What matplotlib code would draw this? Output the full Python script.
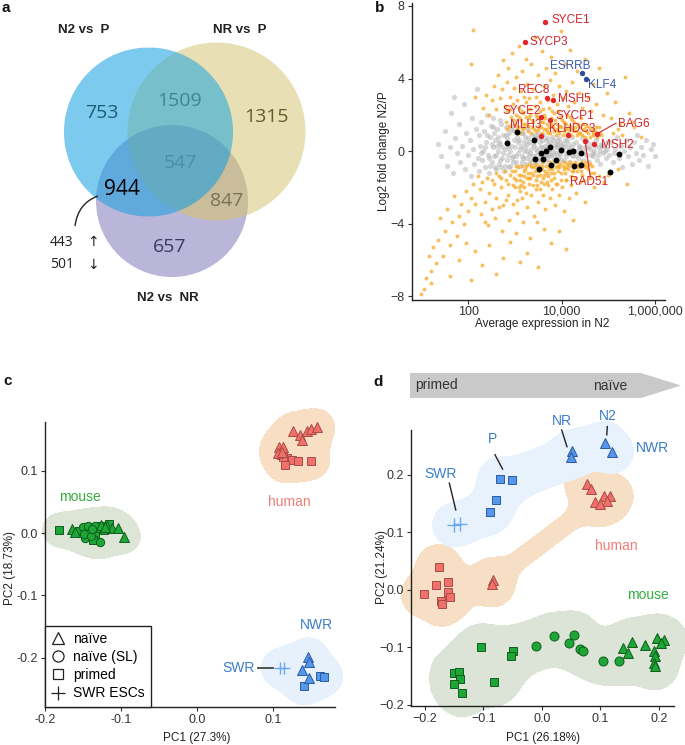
import numpy as np
import matplotlib
matplotlib.use('Agg')
import matplotlib.pyplot as plt
from matplotlib.path import Path
from matplotlib.patches import PathPatch, Polygon
from matplotlib.lines import Line2D

plt.rcParams['font.family'] = ['Liberation Sans', 'DejaVu Sans']

# ---------------- panel a: Venn counts ----------------
venn_titles = ['N2 vs  P', 'NR vs  P', 'N2 vs  NR']
# region codes: 1 = N2 vs P, 2 = NR vs P, 4 = N2 vs NR
venn_codes = [1, 2, 4, 3, 5, 6, 7]
venn_counts = [753, 1315, 657, 1509, 944, 847, 547]
split_944 = [443, 501]

# ---------------- panel b: MA plot (log10 expression, log2 FC) ----------------
grey_pts = [
    (1.35, 0.4), (1.42, -0.3), (1.50, 1.1), (1.55, -0.8), (1.60, 0.2), (1.63, 2.1), (1.68, -1.2),
    (1.72, 0.7), (1.76, -0.1), (1.80, 1.5), (1.83, -0.6), (1.86, 0.3), (1.90, 2.6), (1.93, -1.0),
    (1.96, 1.0), (2.00, -0.2), (2.03, 0.6), (2.05, -1.4), (2.08, 1.8), (2.10, 0.1), (2.13, -0.7),
    (2.16, 1.2), (2.18, 3.4), (2.20, -0.4), (1.70, 3.0),
    (2.22, 0.9), (2.24, -1.1), (2.26, 0.3), (2.28, 1.6), (2.30, -0.5), (2.32, 0.0), (2.34, 1.1),
    (2.36, -0.9), (2.38, 0.5), (2.40, 2.0), (2.42, -0.2), (2.44, -1.2), (2.46, 0.8), (2.48, 1.4),
    (2.50, -0.6), (2.52, 0.2), (2.54, 1.8), (2.56, -0.3), (2.58, 0.6), (2.60, -1.0), (2.62, 1.2),
    (2.64, 0.0), (2.66, -0.7), (2.68, 0.4), (2.70, 1.5), (2.72, -0.4), (2.74, 0.9), (2.76, -1.1),
    (2.78, 0.1), (2.80, 1.3), (2.82, -0.5), (2.84, 0.7), (2.86, -0.2), (2.88, 1.0), (2.90, -0.8),
    (2.92, 0.3), (2.94, 1.4), (2.96, -0.3), (2.98, 0.6), (2.35, 0.2), (2.45, -0.4), (2.55, 1.0),
    (2.65, 0.5), (2.75, -0.1), (2.85, 0.2), (2.95, -0.6), (2.27, -0.1), (2.57, -0.9), (2.67, 1.7),
    (2.87, -0.9),
    (3.01, 0.2), (3.03, -0.6), (3.05, 1.1), (3.07, -0.1), (3.09, 0.6), (3.11, -0.8), (3.13, 0.3),
    (3.15, 1.0), (3.17, -0.4), (3.19, 0.0), (3.21, 0.8), (3.23, -0.7), (3.25, 0.4), (3.27, 1.2),
    (3.29, -0.2), (3.31, 0.5), (3.33, -0.5), (3.35, 0.1), (3.37, 0.9), (3.39, -0.3), (3.41, 0.3),
    (3.43, -0.7), (3.45, 0.7), (3.47, 0.0), (3.49, 1.0), (3.51, -0.4), (3.53, 0.2), (3.55, -0.6),
    (3.57, 0.6), (3.59, -0.1), (3.61, 0.9), (3.63, -0.5), (3.65, 0.3), (3.67, -0.2), (3.69, 0.7),
    (3.71, -0.6), (3.73, 0.1), (3.75, 0.5), (3.77, -0.3), (3.79, 0.8), (3.81, 0.0), (3.83, -0.5),
    (3.85, 0.4), (3.87, -0.1), (3.89, 0.6), (3.91, -0.4), (3.93, 0.2), (3.95, 0.7), (3.97, -0.2),
    (3.99, 0.3), (3.14, -0.3), (3.26, 0.0), (3.38, 0.4), (3.52, 0.8), (3.64, 0.1), (3.76, -0.1),
    (3.88, 0.2), (3.20, 0.5), (3.46, -0.2), (3.70, 0.4),
    (4.01, 0.1), (4.04, -0.5), (4.07, 0.6), (4.10, -0.1), (4.13, 0.4), (4.16, -0.6), (4.19, 0.2),
    (4.22, 0.8), (4.25, -0.3), (4.28, 0.0), (4.31, 0.5), (4.34, -0.4), (4.37, 0.3), (4.40, -0.1),
    (4.43, 0.7), (4.46, -0.5), (4.49, 0.2), (4.52, -0.2), (4.55, 0.5), (4.58, -0.6), (4.61, 0.1),
    (4.64, 0.4), (4.67, -0.3), (4.70, 0.0), (4.73, 0.6), (4.76, -0.5), (4.79, 0.2), (4.82, -0.7),
    (4.85, 0.4), (4.88, -0.1), (4.91, 0.3), (4.94, -0.4), (4.97, 0.1), (4.06, 0.2), (4.21, -0.2),
    (4.36, 0.1), (4.51, 0.6), (4.66, -0.1), (4.81, 0.0), (4.96, 0.5),
    (5.02, -0.2), (5.06, 0.5), (5.10, -0.6), (5.14, 0.1), (5.18, 0.8), (5.22, -0.4), (5.26, 0.3),
    (5.30, -0.9), (5.34, 0.0), (5.38, 0.6), (5.42, -0.3), (5.46, 0.2), (5.50, -0.7), (5.54, 0.5),
    (5.58, -0.1), (5.62, 0.9), (5.66, -0.5), (5.70, 0.2), (5.75, -0.2), (5.80, 0.6), (5.85, -0.8),
    (5.90, 0.1), (5.95, 0.4), (6.00, -0.3), (5.12, -0.1),
    (2.51, 0.4), (2.59, -0.2), (2.63, 0.8), (2.69, -0.5), (2.73, 0.2), (2.79, -0.8), (2.83, 0.5),
    (2.89, 0.0), (2.93, -0.4), (2.97, 1.1), (3.02, -0.3), (3.06, 0.5), (3.10, 0.1), (3.16, -0.6),
    (3.22, 0.2), (3.28, 0.7), (3.32, -0.1), (3.36, -0.6), (3.40, 0.6), (3.44, 0.1), (3.48, -0.5),
    (3.54, 0.5), (3.58, 0.2), (3.62, -0.3), (3.66, 0.6), (3.72, -0.2), (3.78, 0.3), (3.84, -0.2),
    (3.90, 0.4), (3.94, -0.1), (3.98, -0.5), (4.03, 0.4), (4.09, -0.3), (4.15, 0.1), (4.24, 0.4),
    (4.30, -0.2), (4.39, 0.2), (4.45, 0.0), (4.57, 0.2), (4.63, -0.2), (4.72, 0.3), (4.78, -0.2),
    (4.87, 0.3), (4.93, 0.0), (2.41, 0.9), (2.47, -0.8), (2.53, 1.3), (2.61, 0.3), (2.71, -0.9),
    (2.81, 0.9), (2.91, 1.2), (3.04, 0.8), (3.18, 1.0), (3.24, -0.4), (3.42, 0.9), (3.56, -0.2),
    (3.68, -0.4), (3.82, 0.6), (3.96, 0.5), (4.12, 0.6),
]

orange_pts = [
    # upper dense band
    (2.80, 1.6), (2.84, 2.2), (2.88, 1.4), (2.92, 1.9), (2.96, 2.6), (3.00, 1.5), (3.03, 2.0),
    (3.06, 1.3), (3.09, 2.4), (3.12, 1.7), (3.15, 1.2), (3.18, 2.1), (3.21, 1.5), (3.24, 2.7),
    (3.27, 1.1), (3.30, 1.8), (3.33, 2.3), (3.36, 1.3), (3.39, 1.6), (3.42, 2.5), (3.45, 1.1),
    (3.48, 1.9), (3.51, 1.4), (3.54, 2.2), (3.57, 1.0), (3.60, 1.6), (3.63, 2.0), (3.66, 1.2),
    (3.69, 1.5), (3.72, 2.4), (3.75, 1.0), (3.78, 1.8), (3.81, 1.3), (3.84, 2.1), (3.87, 0.9),
    (3.90, 1.5), (3.93, 1.1), (3.96, 1.9), (3.99, 1.3), (4.02, 0.9), (4.05, 1.6), (4.08, 1.2),
    (4.11, 2.0), (4.14, 1.0), (4.17, 1.4), (4.20, 0.9), (4.23, 1.7), (4.26, 1.1), (4.29, 1.3),
    (4.32, 0.9), (4.35, 1.5), (4.38, 1.0), (4.41, 1.8), (4.44, 0.9), (4.47, 1.2), (4.50, 0.8),
    (4.53, 1.4), (4.56, 1.0), (4.60, 0.8), (4.64, 1.2), (4.68, 0.9), (4.72, 1.1), (4.76, 0.8),
    (4.80, 1.3), (4.85, 0.9), (3.35, 1.0), (3.55, 1.3), (3.70, 1.0), (3.95, 1.0), (4.15, 0.85),
    (3.20, 1.25), (3.10, 1.0),
    (2.82, 1.2), (2.90, 2.3), (2.97, 1.7), (3.04, 1.2), (3.08, 1.9), (3.14, 2.2), (3.17, 1.5),
    (3.23, 1.9), (3.28, 1.4), (3.32, 2.0), (3.37, 1.7), (3.41, 1.2), (3.44, 2.0), (3.49, 1.2),
    (3.52, 1.8), (3.56, 1.6), (3.59, 2.3), (3.62, 1.2), (3.65, 1.8), (3.68, 1.1), (3.73, 1.3),
    (3.77, 1.5), (3.80, 2.2), (3.83, 1.1), (3.86, 1.7), (3.89, 1.2), (3.92, 2.2), (3.97, 1.4),
    (4.00, 1.7), (4.04, 1.1), (4.09, 1.5), (4.13, 1.2), (4.18, 1.9), (4.22, 1.2), (4.27, 1.6),
    (4.31, 1.1), (4.36, 1.3), (4.40, 1.0), (4.46, 1.5), (4.52, 1.1), (4.58, 1.3), (4.66, 1.0),
    (4.74, 1.3), (4.82, 1.0),
    # upper sparse region
    (2.32, 2.4), (2.38, 3.1), (2.44, 2.0), (2.50, 2.8), (2.55, 3.6), (2.60, 2.3), (2.64, 4.2),
    (2.68, 2.9), (2.72, 3.4), (2.75, 5.0), (2.78, 2.5), (2.82, 3.8), (2.86, 4.6), (2.90, 3.0),
    (2.94, 5.4), (2.98, 3.5), (3.02, 4.1), (3.05, 2.8), (3.08, 5.8), (3.12, 3.3), (3.16, 4.4),
    (3.20, 3.0), (3.23, 5.1), (3.26, 3.7), (3.30, 2.9), (3.34, 4.8), (3.38, 3.4), (3.42, 6.3),
    (3.46, 3.0), (3.50, 4.2), (3.54, 2.7), (3.58, 5.5), (3.62, 3.6), (3.66, 4.6), (3.70, 2.8),
    (3.74, 3.9), (3.78, 5.2), (3.82, 3.1), (3.86, 4.3), (3.90, 2.6), (3.94, 3.6), (3.98, 6.6),
    (4.02, 2.9), (4.06, 4.8), (4.10, 3.3), (4.14, 2.5), (4.18, 5.6), (4.22, 3.8), (4.26, 2.7),
    (4.32, 4.4), (4.38, 3.2), (4.44, 2.4), (4.50, 5.1), (4.56, 3.0), (4.62, 2.2), (4.68, 3.7),
    (4.74, 2.6), (4.80, 4.6), (4.88, 2.0), (4.96, 3.2), (5.05, 1.8), (5.15, 2.7), (5.25, 1.5),
    (5.35, 4.1), (5.45, 2.1), (5.55, 1.3), (2.11, 6.7), (2.05, 4.8), (2.15, 3.0),
    (5.10, 1.0), (5.30, 0.9), (5.50, 1.6), (5.70, 0.8), (5.20, 1.2),
    # lower dense band
    (3.00, -1.1), (3.03, -1.6), (3.06, -0.9), (3.09, -2.0), (3.12, -1.3), (3.15, -0.8), (3.18, -1.7),
    (3.21, -1.0), (3.24, -2.3), (3.27, -1.2), (3.30, -0.7), (3.33, -1.5), (3.36, -0.9), (3.39, -1.9),
    (3.42, -1.1), (3.45, -0.7), (3.48, -1.4), (3.51, -0.8), (3.54, -2.1), (3.57, -1.0), (3.60, -0.6),
    (3.63, -1.3), (3.66, -0.8), (3.69, -1.7), (3.72, -1.0), (3.75, -0.6), (3.78, -1.2), (3.81, -0.7),
    (3.84, -1.5), (3.87, -0.9), (3.90, -0.6), (3.93, -1.1), (3.96, -0.7), (3.99, -1.6), (4.02, -0.8),
    (4.05, -0.6), (4.08, -1.2), (4.11, -0.7), (4.14, -1.0), (4.17, -0.6), (4.20, -1.4), (4.23, -0.7),
    (4.26, -0.9), (4.29, -0.6), (4.32, -1.1), (4.35, -0.7), (4.38, -0.9), (4.41, -0.6), (4.44, -1.3),
    (4.47, -0.7), (4.50, -0.9), (4.53, -0.6), (4.57, -1.0), (4.61, -0.7), (4.65, -0.8), (4.70, -1.2),
    (3.35, -1.2), (3.50, -1.1), (3.65, -1.1), (3.80, -1.0), (3.95, -0.9), (4.10, -0.9), (4.25, -1.1),
    (3.20, -1.4), (3.45, -1.6), (3.70, -1.4),
    (3.02, -0.8), (3.08, -1.3), (3.13, -1.9), (3.19, -1.1), (3.23, -0.8), (3.29, -1.5), (3.34, -0.8),
    (3.38, -1.3), (3.43, -0.9), (3.47, -1.9), (3.53, -1.3), (3.58, -0.8), (3.62, -1.8), (3.68, -1.2),
    (3.73, -0.8), (3.77, -1.6), (3.83, -1.2), (3.88, -1.8), (3.92, -0.8), (3.98, -1.2), (4.04, -1.0),
    (4.09, -1.6), (4.16, -0.8), (4.22, -1.1), (4.28, -1.5), (4.34, -0.9), (4.42, -1.1), (4.48, -1.6),
    (4.55, -0.8), (4.63, -1.2), (2.60, -1.2), (2.70, -1.5), (2.78, -1.1), (2.86, -1.8), (2.93, -1.1),
    (2.98, -1.5),
    # lower spread and left tail
    (2.20, -1.4), (2.25, -2.1), (2.30, -1.7), (2.35, -2.8), (2.40, -1.5), (2.45, -2.3), (2.50, -3.2),
    (2.55, -1.8), (2.60, -2.6), (2.65, -1.4), (2.70, -2.0), (2.75, -3.0), (2.80, -1.6), (2.85, -2.4),
    (2.90, -1.3), (2.95, -2.9), (3.00, -2.0), (3.05, -3.4), (3.10, -1.6), (3.15, -2.6), (3.20, -2.0),
    (3.25, -3.1), (3.30, -1.8), (3.35, -2.4), (3.40, -3.6), (3.45, -2.1), (3.50, -2.8), (3.55, -1.7),
    (3.60, -2.4), (3.65, -3.2), (3.70, -1.9), (3.75, -2.6), (3.80, -2.1), (3.85, -3.0), (3.90, -1.8),
    (3.95, -2.4), (4.00, -2.0), (4.05, -3.3), (4.10, -1.6), (4.15, -2.6), (4.20, -1.9), (4.30, -2.3),
    (4.40, -1.7), (4.50, -2.8), (4.60, -1.5), (4.70, -2.0), (4.80, -1.4), (4.90, -1.7), (5.00, -1.3),
    (5.20, -1.0), (5.40, -1.8), (2.28, -3.5), (2.42, -4.1), (2.58, -3.7), (2.72, -4.4), (2.88, -3.8),
    (3.02, -4.5), (3.18, -3.9), (3.32, -4.8), (3.48, -3.9), (3.62, -4.3), (3.78, -5.1), (3.95, -4.4),
    (4.10, -5.4), (4.25, -3.8), (2.10, -1.8), (2.05, -2.6), (2.00, -3.3), (1.95, -2.2), (1.90, -4.0),
    (1.85, -2.9), (1.80, -3.6), (1.75, -4.7), (1.70, -2.5), (1.65, -3.9), (1.60, -5.2), (1.55, -3.2),
    (1.50, -4.4), (1.45, -5.8), (1.40, -3.7), (1.35, -4.9), (1.30, -6.2), (1.25, -5.3), (1.20, -6.6),
    (1.15, -5.8), (1.10, -7.0), (1.05, -7.6), (1.00, -7.9), (1.20, -7.3), (2.15, -5.5), (2.30, -6.3),
    (2.45, -5.2), (2.60, -6.8), (2.75, -5.9), (2.90, -5.0), (3.10, -6.1), (3.25, -5.6), (3.50, -6.4),
    (1.80, -6.0), (1.95, -5.1), (2.05, -7.1), (1.60, -6.9), (3.05, -2.7), (2.15, -2.9), (2.35, -3.9),
    (2.50, -1.6), (2.65, -3.1), (2.80, -2.7), (2.95, -1.9), (3.10, -2.2), (3.60, -1.5), (3.25, -1.5),
]

black_lx = [3.04, 2.84, 3.41, 3.43, 3.56, 3.59, 3.66, 3.75, 3.51, 3.78, 3.87, 3.99, 4.16, 4.24,
            4.41, 4.26, 4.41, 5.04, 5.22]
black_y = [1.03, 0.46, 0.59, -0.42, -0.11, -0.46, 0.02, 0.20, -1.00, -0.77, -0.50, 0.07, -0.04,
           -0.02, -0.13, -0.85, -0.77, -1.18, -0.17]

red_genes = ['SYCE1', 'SYCP3', 'REC8', 'MSH5', 'SYCE2', 'SYCP1', 'MLH3', 'KLHDC3', 'BAG6',
             'RAD51', 'MSH2']
red_lx = [3.64, 3.21, 3.68, 3.82, 3.56, 3.76, 3.56, 4.14, 4.76, 4.50, 4.69]
red_y = [7.14, 6.03, 2.93, 2.82, 1.86, 1.70, 0.81, 0.89, 0.96, 0.57, 0.37]
red_text_lx = [3.79, 3.32, 3.07, 3.93, 2.74, 3.86, 2.89, 3.73, 5.20, 4.18, 4.84]
red_text_y = [7.20, 6.01, 3.34, 2.88, 2.21, 1.94, 1.42, 1.24, 1.49, -1.70, 0.33]
blue_genes = ['ESRRB', 'KLF4']
blue_lx = [4.43, 4.51]
blue_y = [4.30, 3.95]
blue_text_lx = [3.75, 4.57]
blue_text_y = [4.67, 3.62]

# ---------------- panel c: PCA ----------------
c_mouse_naive = [(-0.165, 0.006), (-0.160, 0.002), (-0.126, 0.013), (-0.118, 0.012),
                 (-0.112, 0.008), (-0.104, 0.008), (-0.096, -0.006), (-0.121, 0.010)]
c_mouse_sl = [(-0.150, 0.010), (-0.144, 0.011), (-0.134, 0.012), (-0.147, -0.008),
              (-0.149, -0.001), (-0.128, -0.015), (-0.140, -0.004), (-0.138, 0.006)]
c_mouse_primed = [(-0.182, 0.005), (-0.155, 0.004), (-0.126, 0.011), (-0.116, 0.015),
                  (-0.134, -0.001), (-0.137, -0.011), (-0.131, 0.008), (-0.122, 0.005)]
c_human_naive = [(0.126, 0.164), (0.135, 0.158), (0.137, 0.150), (0.144, 0.164), (0.149, 0.168),
                 (0.157, 0.170), (0.108, 0.139), (0.113, 0.139), (0.106, 0.128), (0.111, 0.131)]
c_human_primed = [(0.110, 0.126), (0.118, 0.120), (0.124, 0.118), (0.133, 0.116), (0.150, 0.116),
                  (0.115, 0.110), (0.112, 0.122)]
c_nwr_naive = [(0.146, -0.199), (0.147, -0.207), (0.137, -0.220), (0.147, -0.233)]
c_nwr_primed = [(0.161, -0.230), (0.166, -0.231), (0.140, -0.245)]
c_swr = [(0.109, -0.217), (0.114, -0.217)]

# ---------------- panel d: PCA ----------------
d_swr = [(-0.150, 0.113), (-0.140, 0.115)]
d_p = [(-0.072, 0.193), (-0.051, 0.191), (-0.079, 0.157), (-0.088, 0.135)]
d_nr = [(0.052, 0.241), (0.050, 0.231)]
d_n2 = [(0.108, 0.255), (0.120, 0.240)]
d_human_naive = [(0.078, 0.184), (0.084, 0.175), (0.091, 0.152), (0.107, 0.163), (0.117, 0.163),
                 (0.112, 0.155), (0.100, 0.150), (-0.084, 0.017), (-0.085, 0.010)]
d_human_primed = [(-0.176, 0.039), (-0.161, 0.013), (-0.180, 0.008), (-0.160, -0.004),
                  (-0.157, -0.012), (-0.201, -0.008), (-0.172, -0.020), (-0.171, -0.024)]
d_mouse_primed = [(-0.104, -0.100), (-0.136, -0.180), (-0.150, -0.144), (-0.141, -0.142),
                  (-0.140, -0.155), (-0.150, -0.164), (-0.081, -0.161), (-0.050, -0.106),
                  (-0.052, -0.115)]
d_mouse_sl = [(-0.010, -0.097), (0.020, -0.081), (0.055, -0.078), (0.046, -0.093), (0.066, -0.102),
              (0.071, -0.106), (0.104, -0.123), (0.132, -0.124)]
d_mouse_naive = [(0.139, -0.101), (0.148, -0.109), (0.154, -0.091), (0.176, -0.095),
                 (0.197, -0.083), (0.208, -0.087), (0.204, -0.093), (0.191, -0.107),
                 (0.193, -0.115), (0.191, -0.128), (0.193, -0.133)]

c_xticks = [-0.2, -0.1, 0.0, 0.1]
c_xlabels = ['-0.2', '-0.1', '0.0', '0.1']
c_yticks = [-0.2, -0.1, 0.0, 0.1]
c_ylabels = ['-0.2', '-0.1', '0.0', '0.1']
d_ticks = [-0.2, -0.1, 0.0, 0.1, 0.2]
d_labels = ['\u22120.2', '\u22120.1', '0.0', '0.1', '0.2']

GREEN, GREEN_E = '#1ea636', '#0e5c1c'
RED, RED_E = '#f0706a', '#a84b48'
BLUE, BLUE_E = '#5597eb', '#2b5aa3'
CROSS = '#6aa8f0'
TXT = '#333333'


def gauss_blur(a, s):
    k = np.arange(-3 * s, 3 * s + 1)
    g = np.exp(-k ** 2 / (2.0 * s * s))
    g /= g.sum()
    a = np.apply_along_axis(lambda r: np.convolve(r, g, mode='same'), 1, a)
    a = np.apply_along_axis(lambda c: np.convolve(c, g, mode='same'), 0, a)
    return a


def blob(ax, pts, color, r, link=1.0, sigma=8):
    P = ax.transData.transform(np.asarray(pts, float))
    pad = r + 4 * sigma
    x0, y0 = P.min(0) - pad
    x1, y1 = P.max(0) + pad
    gx = np.arange(x0, x1, 1.0)
    gy = np.arange(y0, y1, 1.0)
    GX, GY = np.meshgrid(gx, gy)
    mask = np.zeros(GX.shape)
    for px, py in P:
        mask[(GX - px) ** 2 + (GY - py) ** 2 <= r * r] = 1
    # minimum spanning tree links between points
    inside, rest = [0], list(range(1, len(P)))
    while rest:
        best = min((np.hypot(*(P[i] - P[j])), i, j) for i in inside for j in rest)
        _, i, j = best
        inside.append(j)
        rest.remove(j)
        a, b = P[i], P[j]
        ab = b - a
        t = np.clip(((GX - a[0]) * ab[0] + (GY - a[1]) * ab[1]) / max(ab @ ab, 1e-9), 0, 1)
        dx = GX - (a[0] + t * ab[0])
        dy = GY - (a[1] + t * ab[1])
        mask[dx * dx + dy * dy <= (link * r) ** 2] = 1
    field = gauss_blur(mask, sigma)
    inv = ax.transData.inverted()
    DX = inv.transform(np.c_[gx, np.full_like(gx, y0)])[:, 0]
    DY = inv.transform(np.c_[np.full_like(gy, x0), gy])[:, 1]
    cs = ax.contourf(DX, DY, field, levels=[0.45, 10], colors=[color], zorder=1)
    cs.set_clip_on(False)


def pts_scatter(ax, pts, marker, fc, ec, size):
    p = np.asarray(pts)
    ax.plot(p[:, 0], p[:, 1], linestyle='none', marker=marker, markersize=size,
            markerfacecolor=fc, markeredgecolor=ec, markeredgewidth=0.7, zorder=3, clip_on=False)


def style_axes(ax):
    for s in ['top', 'right']:
        ax.spines[s].set_visible(False)
    for s in ['left', 'bottom']:
        ax.spines[s].set_color('#222222')
        ax.spines[s].set_linewidth(1.0)
    ax.tick_params(direction='out', length=3, width=0.8, color='#333333',
                   labelcolor=TXT, labelsize=9, pad=2)
    ax.set_facecolor('none')


def main():
    fig = plt.figure(figsize=(6.85, 7.45), dpi=100)

    # overlay in pixel coordinates
    ov = fig.add_axes([0, 0, 1, 1])
    ov.set_axis_off()

    # ---- panel a ----
    centers = [(148.5, 132.0), (216.5, 131.5), (172.0, 201.0)]
    radii = [84.5, 89.0, 76.0]
    region_colors = {0: '#ffffff', 1: '#7dcaee', 2: '#e8dfb4', 3: '#77bfcc', 4: '#bab6da',
                     5: '#5fa9dd', 6: '#c9bd9c', 7: '#63abc3'}
    S = 3
    W, H = 340, 320
    xs = (np.arange(W * S) + 0.5) / S
    ys = (np.arange(H * S) + 0.5) / S
    GX, GY = np.meshgrid(xs, ys)
    code = np.zeros(GX.shape, int)
    for k, ((cx, cy), r) in enumerate(zip(centers, radii)):
        code += ((GX - cx) ** 2 + (GY - cy) ** 2 <= r * r).astype(int) << k
    table = np.array([matplotlib.colors.to_rgb(region_colors[i]) for i in range(8)])
    img = table[code].reshape(H, S, W, S, 3).mean(axis=(1, 3))
    ov.imshow(img, extent=(0, W, H, 0), interpolation='bilinear', aspect='auto', zorder=0)

    num_pos = {1: (101.7, 113.3), 2: (266.0, 116.7), 4: (170.0, 246.7), 3: (180.0, 101.0),
               5: (122.3, 189.3), 6: (226.7, 201.0), 7: (180.0, 163.3)}
    num_col = {1: '#1d5b78', 2: '#66592b', 4: '#3a3762', 3: '#3f8595', 5: '#000000',
               6: '#7a7256', 7: '#4d8ea6'}
    for c, n in zip(venn_codes, venn_counts):
        x, y = num_pos[c]
        ov.text(x, y, str(n), ha='center', va='center', fontsize=15 if c == 5 else 14,
                color=num_col[c], family=['Open Sans', 'DejaVu Sans'])
    title_pos = [(84, 30), (240, 30), (168.3, 298.3)]
    for t, (x, y) in zip(venn_titles, title_pos):
        ov.text(x, y, t, ha='center', va='center', fontsize=9.5, fontweight='bold', color='#222222')
    ov.text(50, 242.3, str(split_944[0]), ha='left', va='center', fontsize=10, color='#222222',
            family=['Open Sans', 'DejaVu Sans'])
    ov.text(50, 264.3, str(split_944[1]), ha='left', va='center', fontsize=10, color='#222222',
            family=['Open Sans', 'DejaVu Sans'])
    ov.text(92.5, 241.5, '\u2191', ha='center', va='center', fontsize=10, color='#222222',
            family=['DejaVu Sans'])
    ov.text(92.5, 264.5, '\u2193', ha='center', va='center', fontsize=10, color='#222222',
            family=['DejaVu Sans'])
    curve = Path([(98, 196), (78, 203), (75, 226)], [Path.MOVETO, Path.CURVE3, Path.CURVE3])
    ov.add_patch(PathPatch(curve, facecolor='none', edgecolor='#222222', lw=1.0, zorder=2))

    # panel letters
    for letter, (x, y) in zip('abcd', [(6, 8), (380, 8), (8, 381), (378, 382)]):
        ov.text(x, y, letter, ha='center', va='center', fontsize=11, fontweight='bold', color='#111111')

    # arrow banner for d
    ov.add_patch(Polygon([(410, 373), (641, 373), (681, 385.5), (641, 398), (410, 398)],
                         closed=True, facecolor='#c9c9c9', edgecolor='none', zorder=1))
    ov.text(415, 385.5, 'primed', ha='left', va='center', fontsize=10, color=TXT)
    ov.text(592.7, 385.5, 'na\u00efve', ha='left', va='center', fontsize=10, color=TXT)

    # axis titles placed in pixel coordinates
    lab = dict(fontsize=8.5, color='#222222', ha='center', va='center')
    ov.text(542.5, 324.5, 'Average expression in N2', **lab)
    ov.text(384.0, 150.8, 'Log2 fold change N2/P', rotation=90, **lab)
    ov.text(196.7, 738.5, 'PC1 (27.3%)', **lab)
    ov.text(10.5, 568.0, 'PC2 (18.73%)', rotation=90, **lab)
    ov.text(542.7, 738.0, 'PC1 (26.18%)', **lab)
    ov.text(382.0, 566.7, 'PC2 (21.24%)', rotation=90, **lab)

    ov.set_xlim(0, 685)
    ov.set_ylim(745, 0)

    # ---- panel b ----
    ax_b = fig.add_axes([0.6010, 0.5973, 0.3698, 0.3983])
    style_axes(ax_b)
    ax_b.tick_params(axis='x', pad=1)
    ax_b.set_xscale('log')
    g = np.array(grey_pts)
    o = np.array(orange_pts)
    ax_b.scatter(10 ** g[:, 0], g[:, 1], s=14, color='#b0b0b0', alpha=0.5, linewidths=0, zorder=1)
    ax_b.scatter(10 ** o[:, 0], o[:, 1], s=8, color='#f7ab2a', alpha=0.75, linewidths=0, zorder=2)
    ax_b.scatter(10 ** np.array(black_lx), black_y, s=18, color='black', linewidths=0, zorder=4)
    ax_b.scatter(10 ** np.array(red_lx), red_y, s=15, color='#e3262b', linewidths=0, zorder=5)
    ax_b.scatter(10 ** np.array(blue_lx), blue_y, s=15, color='#2d4f9e', linewidths=0, zorder=5)
    for name, px, py, tx, ty in zip(red_genes, red_lx, red_y, red_text_lx, red_text_y):
        ax_b.text(10 ** tx, ty, name, ha='left', va='center', fontsize=8.5, color='#d0262c',
                  zorder=6, clip_on=False)
        if name == 'BAG6':
            ax_b.plot([10 ** px, 10 ** 5.16], [py, 1.53], color='#d0262c', lw=0.8, zorder=5)
        if name == 'RAD51':
            ax_b.plot([10 ** px, 10 ** 4.61], [py, -1.42], color='#d0262c', lw=0.8, zorder=5)
    for name, tx, ty in zip(blue_genes, blue_text_lx, blue_text_y):
        ax_b.text(10 ** tx, ty, name, ha='left', va='center', fontsize=8.5, color='#3a5bb0', zorder=6)
    ax_b.set_xlim(10 ** 0.79, 10 ** 6.21)
    ax_b.set_ylim(-8.22, 8.15)
    ax_b.set_xticks([100, 10000, 1000000])
    ax_b.set_xticklabels(['100', '10,000', '1,000,000'])
    ax_b.xaxis.set_minor_locator(matplotlib.ticker.NullLocator())
    ax_b.set_yticks([-8, -4, 0, 4, 8])
    ax_b.set_yticklabels(['\u22128', '\u22124', '0', '4', '8'])

    # ---- panel c ----
    ax_c = fig.add_axes([0.0657, 0.0514, 0.4234, 0.3826])
    style_axes(ax_c)
    ax_c.set_xlim(-0.2, 0.181)
    ax_c.set_ylim(-0.279, 0.179)
    blob(ax_c, c_mouse_naive + c_mouse_sl + c_mouse_primed, '#dde5d7', 17)
    blob(ax_c, c_human_naive + c_human_primed, '#f8dfc4', 19, sigma=9)
    blob(ax_c, c_nwr_naive + c_nwr_primed + c_swr, '#e7f1fc', 20, sigma=9)
    pts_scatter(ax_c, c_mouse_primed, 's', GREEN, GREEN_E, 6)
    pts_scatter(ax_c, c_mouse_sl, 'o', GREEN, GREEN_E, 6)
    pts_scatter(ax_c, c_mouse_naive, '^', GREEN, GREEN_E, 7.5)
    pts_scatter(ax_c, c_human_primed, 's', RED, RED_E, 6)
    pts_scatter(ax_c, c_human_naive, '^', RED, RED_E, 7.5)
    pts_scatter(ax_c, c_nwr_primed, 's', BLUE, BLUE_E, 6)
    pts_scatter(ax_c, c_nwr_naive, '^', BLUE, BLUE_E, 7.5)
    sw = np.array(c_swr)
    ax_c.plot(sw[:, 0], sw[:, 1], linestyle='none', marker='+', markersize=9, markeredgewidth=1.0,
              color=CROSS, zorder=3)
    ax_c.plot([0.0803, 0.1001], [-0.217, -0.217], color='#444444', lw=1.3, zorder=2)
    ax_c.text(0.076, -0.217, 'SWR', ha='right', va='center', fontsize=10, color='#3a7dc9')
    ax_c.text(-0.154, 0.0572, 'mouse', ha='center', va='center', fontsize=10, color='#33ad3f')
    ax_c.text(0.121, 0.0492, 'human', ha='center', va='center', fontsize=10, color='#f07c78')
    ax_c.text(0.156, -0.1474, 'NWR', ha='center', va='center', fontsize=10, color='#3a7dc9')
    ax_c.set_xticks(c_xticks)
    ax_c.set_xticklabels(c_xlabels)
    ax_c.set_yticks(c_yticks)
    ax_c.set_yticklabels(c_ylabels)
    handles = [
        Line2D([], [], linestyle='none', marker='^', markersize=9, markerfacecolor='white',
               markeredgecolor='#222222', markeredgewidth=0.9),
        Line2D([], [], linestyle='none', marker='o', markersize=8, markerfacecolor='white',
               markeredgecolor='#222222', markeredgewidth=0.9),
        Line2D([], [], linestyle='none', marker='s', markersize=7.5, markerfacecolor='white',
               markeredgecolor='#222222', markeredgewidth=0.9),
        Line2D([], [], linestyle='none', marker='+', markersize=10, color='#222222',
               markeredgewidth=0.9),
    ]
    leg = ax_c.legend(handles, ['na\u00efve', 'na\u00efve (SL)', 'primed', 'SWR ESCs'],
                      loc='lower left', bbox_to_anchor=(0, 0), borderaxespad=0, frameon=True,
                      fancybox=False, edgecolor='#222222', framealpha=1, fontsize=10,
                      handlelength=1.0, handletextpad=0.6, labelspacing=0.3, borderpad=0.45)
    leg.get_frame().set_linewidth(1.0)
    leg.set_zorder(5)

    # ---- panel d ----
    ax_d = fig.add_axes([0.5996, 0.0523, 0.3844, 0.3705])
    style_axes(ax_d)
    ax_d.set_xlim(-0.224, 0.226)
    ax_d.set_ylim(-0.202, 0.278)
    blob(ax_d, d_mouse_primed + d_mouse_sl + d_mouse_naive, '#dbe4d6', 24, sigma=9)
    blob(ax_d, d_human_naive + d_human_primed, '#f6dfc4', 23, link=0.38, sigma=7)
    blob(ax_d, d_swr + d_p + d_nr + d_n2, '#e8f2fc', 22, link=0.9, sigma=8)
    pts_scatter(ax_d, d_mouse_primed, 's', GREEN, GREEN_E, 6)
    pts_scatter(ax_d, d_mouse_sl, 'o', GREEN, GREEN_E, 6.5)
    pts_scatter(ax_d, d_mouse_naive, '^', GREEN, GREEN_E, 7.5)
    pts_scatter(ax_d, d_human_primed, 's', RED, RED_E, 6)
    pts_scatter(ax_d, d_human_naive, '^', RED, RED_E, 7.5)
    pts_scatter(ax_d, d_p, 's', BLUE, BLUE_E, 6)
    pts_scatter(ax_d, d_nr, '^', BLUE, BLUE_E, 7.5)
    pts_scatter(ax_d, d_n2, '^', BLUE, BLUE_E, 7.5)
    sw = np.array(d_swr)
    ax_d.plot(sw[:, 0], sw[:, 1], linestyle='none', marker='+', markersize=10, markeredgewidth=1.0,
              color=CROSS, zorder=3)
    for txt, (tx, ty), seg in [('SWR', (-0.173, 0.202), [(-0.158, 0.1855), (-0.147, 0.139)]),
                               ('P', (-0.084, 0.262), [(-0.080, 0.235), (-0.067, 0.210)]),
                               ('NR', (0.034, 0.2945), [(0.034, 0.278), (0.043, 0.249)]),
                               ('N2', (0.112, 0.3026), [(0.112, 0.284), (0.111, 0.2696)])]:
        ax_d.text(tx, ty, txt, ha='center', va='center', fontsize=10, color='#3a7dc9', clip_on=False)
        ax_d.plot([seg[0][0], seg[1][0]], [seg[0][1], seg[1][1]], color='#222222', lw=1.0,
                  zorder=2, clip_on=False)
    ax_d.text(0.189, 0.2464, 'NWR', ha='center', va='center', fontsize=10, color='#3a7dc9')
    ax_d.text(0.1265, 0.0771, 'human', ha='center', va='center', fontsize=10, color='#f07c78')
    ax_d.text(0.1817, -0.0087, 'mouse', ha='center', va='center', fontsize=10, color='#33ad3f')
    ax_d.set_xticks(d_ticks)
    ax_d.set_xticklabels(d_labels)
    ax_d.set_yticks(d_ticks)
    ax_d.set_yticklabels(d_labels)

    fig.savefig('out.png', dpi=100)


if __name__ == '__main__':
    main()
